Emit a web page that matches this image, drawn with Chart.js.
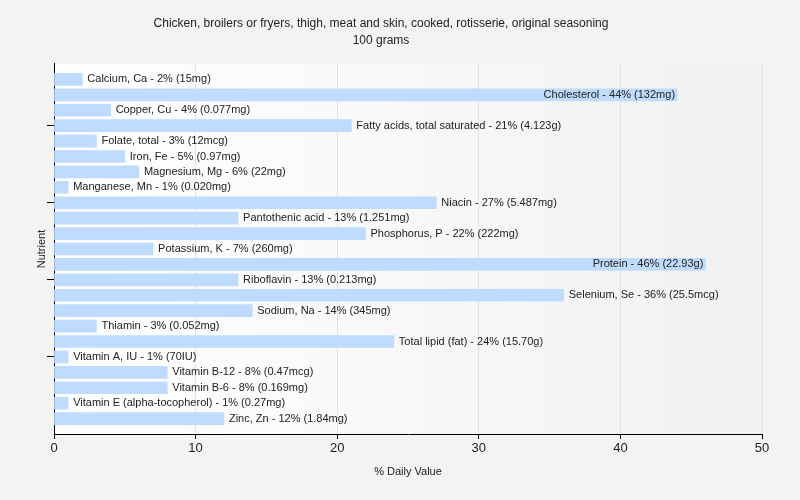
<!DOCTYPE html>
<html>
<head>
<meta charset="utf-8">
<script src="https://cdn.jsdelivr.net/npm/chart.js@4"></script>
<style>
  html, body { margin: 0; padding: 0; background: #f3f3f3; }
  #wrap { width: 800px; height: 500px; }
</style>
</head>
<body>
<div id="wrap"><canvas id="chart"></canvas></div>
<script>
// Nutrients in plotting order, top to bottom
const nutrients = ["Calcium, Ca", "Cholesterol", "Copper, Cu", "Fatty acids, total saturated", "Folate, total",
  "Iron, Fe", "Magnesium, Mg", "Manganese, Mn", "Niacin", "Pantothenic acid", "Phosphorus, P", "Potassium, K",
  "Protein", "Riboflavin", "Selenium, Se", "Sodium, Na", "Thiamin", "Total lipid (fat)", "Vitamin A, IU",
  "Vitamin B-12", "Vitamin B-6", "Vitamin E (alpha-tocopherol)", "Zinc, Zn"];
const dailyValue = [2, 44, 4, 21, 3, 5, 6, 1, 27, 13, 22, 7, 46, 13, 36, 14, 3, 24, 1, 8, 8, 1, 12];
const amounts = ["15mg", "132mg", "0.077mg", "4.123g", "12mcg", "0.97mg", "22mg", "0.020mg", "5.487mg", "1.251mg",
  "222mg", "260mg", "22.93g", "0.213mg", "25.5mcg", "345mg", "0.052mg", "15.70g", "70IU", "0.47mcg", "0.169mg",
  "0.27mg", "1.84mg"];
const xTicks = [0, 10, 20, 30, 40, 50];
const yTickIdx = [3, 8, 13, 18];

const txtFont = '"Liberation Sans", Arial, sans-serif';

// plot area gradient background
const plotBg = {
  id: 'plotBg',
  beforeDraw(chart) {
    const { ctx, chartArea: a } = chart;
    const g = ctx.createLinearGradient(a.left, 0, a.right, 0);
    g.addColorStop(0, '#ffffff');
    g.addColorStop(1, '#f1f1f1');
    ctx.save();
    ctx.fillStyle = g;
    ctx.fillRect(a.left, a.top, a.right - a.left, a.bottom - a.top);
    ctx.restore();
  }
};

// text next to / inside each bar
const barLabels = {
  id: 'barLabels',
  afterDatasetsDraw(chart) {
    const { ctx, chartArea: a } = chart;
    const meta = chart.getDatasetMeta(0);
    ctx.save();
    ctx.font = '11px ' + txtFont;
    ctx.fillStyle = '#222';
    ctx.textBaseline = 'middle';
    meta.data.forEach((bar, i) => {
      const txt = nutrients[i] + ' - ' + dailyValue[i] + '% (' + amounts[i] + ')';
      const w = ctx.measureText(txt).width;
      if (bar.x + 5 + w > a.right) {
        ctx.textAlign = 'right';
        ctx.fillText(txt, bar.x - 2, bar.y);
      } else {
        ctx.textAlign = 'left';
        ctx.fillText(txt, bar.x + 5, bar.y);
      }
    });
    ctx.restore();
  }
};

new Chart(document.getElementById('chart'), {
  type: 'bar',
  data: {
    datasets: [{
      data: dailyValue.map((v, i) => ({ x: v, y: i })),
      backgroundColor: '#bfdbfe',
      borderWidth: 0,
      barThickness: 12
    }]
  },
  options: {
    indexAxis: 'y',
    responsive: true,
    maintainAspectRatio: false,
    animation: false,
    layout: { padding: { left: 0, right: 38, top: 0, bottom: 0 } },
    plugins: {
      legend: { display: false },
      tooltip: { enabled: false },
      title: {
        display: true,
        text: ['Chicken, broilers or fryers, thigh, meat and skin, cooked, rotisserie, original seasoning', '100 grams'],
        color: '#222',
        font: { family: txtFont, size: 12, weight: 'normal', lineHeight: 1.4 },
        padding: { top: 15, bottom: 15.4 }
      }
    },
    scales: {
      x: {
        type: 'linear',
        min: 0,
        max: 50,
        afterBuildTicks(s) { s.ticks = xTicks.map(v => ({ value: v })); },
        afterFit(s) { s.height = 66; },
        ticks: { color: '#222', font: { family: txtFont, size: 13 }, padding: 2 },
        grid: { color: '#e2e2e2', tickColor: '#000', tickLength: 5 },
        border: { color: '#000', width: 1 },
        title: {
          display: true,
          text: '% Daily Value',
          color: '#222',
          font: { family: txtFont, size: 11 },
          padding: { top: 0, bottom: 21 }
        }
      },
      y: {
        type: 'linear',
        reverse: true,
        offset: false,
        min: -1,
        max: 23,
        afterBuildTicks(s) { s.ticks = yTickIdx.map(v => ({ value: v })); },
        afterFit(s) { s.width = 54; },
        ticks: { display: false },
        grid: { offset: false, drawOnChartArea: false, tickColor: '#000', tickLength: 7 },
        border: { color: '#000', width: 1 },
        title: {
          display: true,
          text: 'Nutrient',
          color: '#222',
          font: { family: txtFont, size: 11 },
          padding: { top: 35, bottom: 0 }
        }
      }
    }
  },
  plugins: [plotBg, barLabels]
});
</script>
</body>
</html>
